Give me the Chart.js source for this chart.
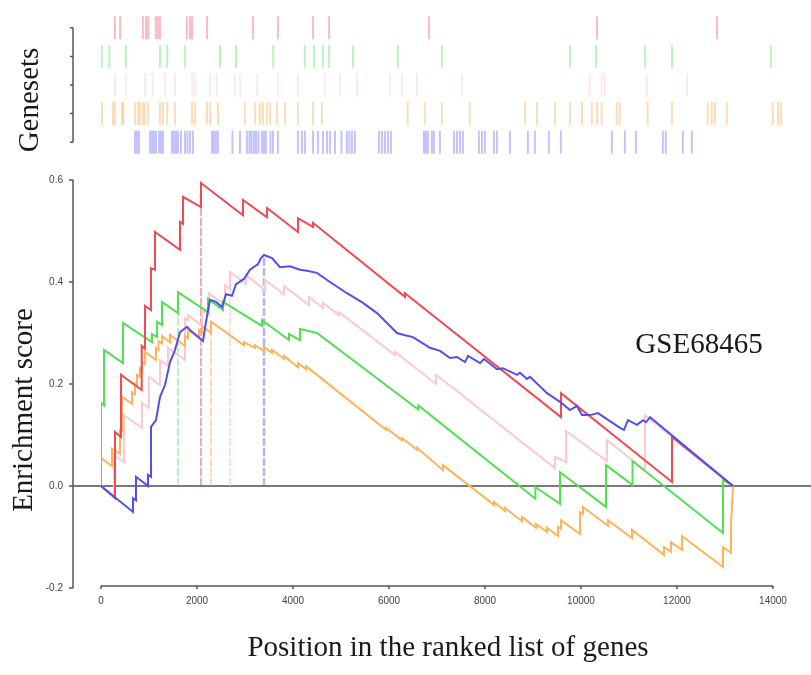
<!DOCTYPE html>
<html>
<head>
<meta charset="utf-8">
<script src="https://cdn.jsdelivr.net/npm/chart.js@4.4.0/dist/chart.umd.min.js"></script>
<style>
  html, body { margin: 0; padding: 0; background: #fff; }
  #wrap { position: relative; width: 811px; height: 675px; }
  #wrap canvas { position: absolute; left: 0; top: 0; }
</style>
</head>
<body>
<div id="wrap">
  <canvas id="esChart" width="811" height="675"></canvas>
  <canvas id="hitChart" width="811" height="170"></canvas>
</div>
<script>
// Ranked list length and axis ticks
const geneCount = 13167;
const xTicks = [0, 2000, 4000, 6000, 8000, 10000, 12000, 14000];
const yTicks = [-0.2, 0, 0.2, 0.4, 0.6];

// Running enrichment score, [rank, score] pairs
const esRed = [[0,0],[292,-0.024],[292,0.106],[417,0.096],[417,0.218],[848,0.188],[848,0.275],[917,0.269],[917,0.353],
  [1042,0.345],[1042,0.427],[1125,0.424],[1125,0.498],[1646,0.463],[1646,0.518],[1708,0.514],[1708,0.567],[2083,0.547],
  [2083,0.594],[2958,0.531],[2958,0.561],[3458,0.527],[3458,0.545],[4104,0.498],[4104,0.525],[4417,0.508],[4417,0.516],
  [6333,0.371],[6333,0.378],[9583,0.135],[9583,0.182],[11896,0.008],[11896,0.096],[13167,0]];

const esGreen = [[0,0],[0,0.163],[63,0.158],[63,0.267],[458,0.241],[458,0.320],[1063,0.282],[1063,0.298],[1167,0.292],
  [1167,0.322],[1271,0.316],[1271,0.361],[1604,0.339],[1604,0.380],[2229,0.341],[2229,0.367],[2542,0.345],[2542,0.361],
  [3354,0.314],[3354,0.325],[3917,0.286],[3917,0.298],[4146,0.286],[4146,0.308],[4500,0.300],[6610,0.150],[6610,0.158],
  [9050,-0.025],[9050,-0.002],[9563,-0.035],[9563,0.027],[10521,-0.041],[10521,0.041],[11073,0.002],[11073,0.049],
  [12958,-0.092],[12958,0.012],[13167,0]];

const esPink = [[0,0],[271,-0.020],[271,0.061],[479,0.047],[479,0.139],[854,0.114],[854,0.163],[1000,0.153],[1000,0.214],
  [1229,0.198],[1229,0.247],[1396,0.235],[1396,0.271],[1750,0.247],[1750,0.329],[1813,0.325],[1813,0.335],[2104,0.314],
  [2104,0.345],[2250,0.335],[2250,0.378],[2583,0.355],[2583,0.394],[2688,0.386],[2688,0.420],[3021,0.396],[3021,0.414],
  [3417,0.384],[3417,0.404],[3813,0.376],[3813,0.392],[4333,0.355],[4333,0.371],[4625,0.349],[4625,0.359],[4958,0.335],
  [4958,0.341],[6125,0.257],[6125,0.263],[6979,0.200],[6979,0.218],[9458,0.035],[9458,0.057],[9688,0.047],[9688,0.108],
  [10542,0.049],[10542,0.090],[11333,0.031],[11333,0.139],[13167,0]];

const esOrange = [[0,0],[0,0.055],[229,0.039],[229,0.073],[396,0.063],[396,0.110],[438,0.108],[438,0.175],[646,0.161],
  [646,0.184],[708,0.180],[708,0.200],[750,0.196],[750,0.218],[813,0.214],[813,0.231],[854,0.227],[854,0.243],[917,0.239],
  [917,0.263],[1146,0.247],[1146,0.271],[1198,0.267],[1198,0.284],[1271,0.280],[1271,0.294],[1438,0.282],[1438,0.296],
  [1750,0.275],[1750,0.294],[1813,0.290],[1813,0.306],[2042,0.290],[2042,0.306],[2104,0.302],[2104,0.314],[2292,0.300],
  [2292,0.322],[2979,0.276],[2979,0.282],[3208,0.271],[3208,0.276],[3396,0.265],[3396,0.273],[3563,0.261],[3563,0.267],
  [3813,0.249],[3813,0.255],[4104,0.233],[4104,0.241],[4271,0.229],[4271,0.235],[5938,0.110],[5938,0.114],[6271,0.090],
  [6271,0.094],[6583,0.071],[6583,0.075],[7125,0.031],[7125,0.041],[8188,-0.037],[8188,-0.031],[8417,-0.049],[8417,-0.043],
  [8771,-0.069],[8771,-0.061],[9063,-0.082],[9063,-0.075],[9292,-0.090],[9292,-0.082],[9521,-0.098],[9521,-0.080],
  [9583,-0.084],[9583,-0.067],[9979,-0.094],[9979,-0.051],[10042,-0.055],[10042,-0.041],[10563,-0.078],[10563,-0.067],
  [11063,-0.102],[11063,-0.086],[11729,-0.135],[11729,-0.120],[11875,-0.129],[11875,-0.110],[12104,-0.125],[12104,-0.098],
  [12958,-0.159],[12958,-0.120],[13125,-0.131],[13125,-0.076],[13167,0]];

const esBlue = [[0,0],[667,-0.051],[667,-0.024],[729,-0.028],[729,0.018],[979,0.000],[979,0.022],[1042,0.018],[1042,0.116],
  [1146,0.129],[1229,0.175],[1333,0.198],[1438,0.243],[1542,0.267],[1646,0.302],[1792,0.312],[1854,0.306],[1979,0.296],
  [2125,0.284],[2188,0.322],[2271,0.365],[2396,0.361],[2521,0.351],[2604,0.376],[2729,0.373],[2813,0.396],[2979,0.406],
  [3104,0.424],[3271,0.435],[3333,0.447],[3396,0.453],[3563,0.447],[3729,0.429],[3938,0.431],[4146,0.424],[4292,0.422],
  [4500,0.418],[4771,0.400],[5125,0.378],[5458,0.359],[5750,0.339],[6167,0.300],[6313,0.296],[6500,0.292],[6854,0.271],
  [7063,0.265],[7271,0.251],[7417,0.253],[7583,0.243],[7646,0.255],[7896,0.241],[7979,0.249],[8250,0.229],[8375,0.231],
  [8667,0.218],[8729,0.222],[8875,0.210],[8938,0.214],[9292,0.182],[9563,0.165],[9771,0.149],[9917,0.157],[10021,0.139],
  [10188,0.139],[10354,0.143],[10813,0.114],[10896,0.110],[10979,0.129],[11167,0.120],[11292,0.129],[11354,0.125],
  [11438,0.135],[13167,0]];

// Peak positions (dotted drop lines)
const peakRanks = [2083, 1604, 2688, 2292, 3396];
const peakScores = [0.594, 0.380, 0.420, 0.322, 0.453];

// Hit positions of each gene set in the ranked list (top panel)
const hitsRed = [270, 370, 810, 870, 910, 1060, 1100, 1140, 1660, 1720, 1760, 2050, 2940, 3420, 4100, 4410, 6340, 9590, 11910];
const hitsGreen = [15, 160, 480, 1140, 1280, 1620, 2300, 2610, 3330, 3940, 4120, 4290, 4410, 4870, 5740, 6590, 9070, 9570,
  10520, 11040, 12950];
const hitsPink = [270, 480, 850, 1000, 1240, 1430, 1760, 1820, 2110, 2240, 2590, 2690, 3020, 3420, 3810, 4330, 4620, 4950,
  5590, 5820, 6110, 6980, 9450, 9680, 9740, 10550, 11330];
const hitsOrange = [20, 230, 270, 410, 430, 660, 720, 750, 810, 850, 910, 1140, 1200, 1280, 1430, 1760, 1820, 2050, 2110,
  2260, 2780, 2980, 3070, 3130, 3210, 3270, 3400, 3560, 3810, 4100, 4270, 5930, 6260, 6590, 7130, 8200, 8430, 8780, 9070,
  9300, 9490, 9590, 9680, 9970, 10030, 10570, 11040, 11730, 11810, 11870, 12100, 12990, 13090, 13150];
const hitsBlue = [657, 696, 735, 947, 986, 1024, 1063, 1121, 1160, 1198, 1372, 1411, 1450, 1488, 1546, 1624, 1672, 1720,
  1778, 2146, 2184, 2223, 2262, 2542, 2687, 2822, 2870, 2909, 2957, 2996, 3044, 3112, 3151, 3189, 3276, 3325, 3421, 3808,
  3885, 3943, 4098, 4195, 4292, 4369, 4427, 4524, 4649, 4755, 4803, 4852, 4910, 5374, 5432, 5490, 5548, 5606, 6244, 6282,
  6321, 6398, 6437, 6553, 6824, 6882, 6940, 6998, 7307, 7365, 7423, 7597, 7655, 7906, 8254, 8389, 8660, 8892, 9878, 10129,
  10342, 10863, 10921, 11250, 11424];

// Series order: red, green, pink, orange, blue
const seriesNames = ['Geneset 1', 'Geneset 2', 'Geneset 3', 'Geneset 4', 'Geneset 5'];
const curves = [esRed, esGreen, esPink, esOrange, esBlue];
const hitSets = [hitsRed, hitsGreen, hitsPink, hitsOrange, hitsBlue];
const hitRows = [5, 4, 3, 2, 1];

const lineColors = ['#f04a55', '#52e052', '#ffc8d0', '#ffb45a', '#5050f0'];
const peakColors = ['rgba(240,70,80,0.7)', 'rgba(80,220,80,0.6)', 'rgba(255,190,200,0.8)', 'rgba(255,170,80,0.7)', 'rgba(90,90,240,0.45)'];
const hitColors = ['rgba(245,60,80,0.35)', 'rgba(40,220,40,0.32)', 'rgba(230,160,175,0.22)', 'rgba(245,150,40,0.32)', 'rgba(60,60,245,0.3)'];
const drawOrder = [1, 2, 4, 3, 0]; // blue on top

const serifFont = '29px "Liberation Serif", "Times New Roman", serif';

Chart.defaults.font.family = '"Liberation Sans", Arial, sans-serif';

// Axis lines, zero line and titles for the enrichment plot
const esDecor = {
    id: 'esDecor',
    beforeDatasetsDraw(chart) {
        const { ctx, scales: { x, y } } = chart;
        ctx.save();
        // zero line
        const zy = y.getPixelForValue(0);
        ctx.strokeStyle = '#7a7a7a';
        ctx.lineWidth = 2;
        ctx.beginPath();
        ctx.moveTo(73, zy);
        ctx.lineTo(chart.width, zy);
        ctx.stroke();

        // detached y axis with ticks
        ctx.strokeStyle = '#555';
        ctx.lineWidth = 1.5;
        ctx.beginPath();
        ctx.moveTo(73, y.getPixelForValue(yTicks[yTicks.length - 1]));
        ctx.lineTo(73, y.getPixelForValue(yTicks[0]));
        yTicks.forEach(v => {
            const py = y.getPixelForValue(v);
            ctx.moveTo(69, py);
            ctx.lineTo(73, py);
        });
        // detached x axis with ticks
        const ay = y.getPixelForValue(yTicks[0]) - 2;
        ctx.moveTo(x.getPixelForValue(xTicks[0]), ay);
        ctx.lineTo(x.getPixelForValue(xTicks[xTicks.length - 1]), ay);
        xTicks.forEach(v => {
            const px = x.getPixelForValue(v);
            ctx.moveTo(px, ay);
            ctx.lineTo(px, ay + 3);
        });
        ctx.stroke();
        ctx.restore();
    },
    afterDraw(chart) {
        const ctx = chart.ctx;
        ctx.save();
        ctx.fillStyle = '#1a1a1a';
        ctx.font = serifFont;
        ctx.textAlign = 'center';
        ctx.textBaseline = 'middle';
        ctx.fillText('Position in the ranked list of genes', 448, 648);
        ctx.fillText('GSE68465', 699, 345);
        ctx.translate(24, 410);
        ctx.rotate(-Math.PI / 2);
        ctx.fillText('Enrichment score', 0, 0);
        ctx.restore();
    }
};

// Axis line and label for the hit panel
const genesetAxis = {
    id: 'genesetAxis',
    afterDraw(chart) {
        const ctx = chart.ctx;
        const y = chart.scales.y;
        ctx.save();
        ctx.strokeStyle = '#555';
        ctx.lineWidth = 1.5;
        ctx.beginPath();
        ctx.moveTo(73, y.getPixelForValue(hitRows[0]));
        ctx.lineTo(73, y.getPixelForValue(hitRows[hitRows.length - 1]));
        hitRows.forEach(r => {
            const py = y.getPixelForValue(r);
            ctx.moveTo(70, py);
            ctx.lineTo(73, py);
        });
        ctx.stroke();

        ctx.fillStyle = '#1a1a1a';
        ctx.font = serifFont;
        ctx.textAlign = 'center';
        ctx.textBaseline = 'middle';
        ctx.translate(30, 100);
        ctx.rotate(-Math.PI / 2);
        ctx.fillText('Genesets', 0, 0);
        ctx.restore();
    }
};

// Build datasets for the running score curves and the peak drop lines
const curveDatasets = curves.map((pts, i) => ({
    label: seriesNames[i],
    data: pts.map(p => ({ x: p[0], y: p[1] })),
    borderColor: lineColors[i],
    borderWidth: 2,
    pointRadius: 0,
    tension: 0,
    fill: false,
    order: drawOrder[i]
}));

const peakDatasets = peakRanks.map((r, i) => ({
    label: seriesNames[i] + ' peak',
    data: [{ x: r, y: 0 }, { x: r, y: peakScores[i] }],
    borderColor: peakColors[i],
    borderWidth: i === 4 ? 2.5 : 1.3,
    borderDash: [8, 2],
    pointRadius: 0,
    fill: false,
    order: 10 + i
}));

new Chart(document.getElementById('esChart'), {
    type: 'line',
    data: { datasets: curveDatasets.concat(peakDatasets) },
    options: {
        responsive: false,
        animation: false,
        events: [],
        layout: { padding: { left: 21, right: 38, top: 180, bottom: 57 } },
        plugins: { legend: { display: false }, tooltip: { enabled: false } },
        scales: {
            x: {
                type: 'linear',
                min: xTicks[0],
                max: xTicks[xTicks.length - 1],
                afterBuildTicks: s => { s.ticks = xTicks.map(v => ({ value: v })); },
                afterFit: s => { s.height = 30; },
                grid: { display: false, drawTicks: false },
                border: { display: false },
                ticks: { padding: 7, color: '#444', font: { size: 10 }, maxRotation: 0, autoSkip: false, callback: v => String(v) }
            },
            y: {
                min: yTicks[0],
                max: yTicks[yTicks.length - 1],
                afterBuildTicks: s => { s.ticks = yTicks.map(v => ({ value: v })); },
                afterFit: s => { s.width = 80; },
                grid: { display: false, drawTicks: false },
                border: { display: false },
                ticks: { padding: 38, color: '#444', font: { size: 10 }, callback: v => Number(v).toFixed(1) }
            }
        }
    },
    plugins: [esDecor]
});

// Top panel: one row of vertical ticks per gene set
new Chart(document.getElementById('hitChart'), {
    type: 'scatter',
    data: {
        datasets: hitSets.map((hits, i) => ({
            label: seriesNames[i],
            data: hits.map(r => ({ x: r, y: hitRows[i] })),
            pointStyle: 'line',
            pointRotation: 90,
            pointRadius: 11.5,
            pointBorderWidth: 2,
            pointBorderColor: hitColors[i],
            pointBackgroundColor: hitColors[i]
        }))
    },
    options: {
        responsive: false,
        animation: false,
        events: [],
        layout: { padding: { left: 101, right: 29, top: 8, bottom: 12 } },
        plugins: { legend: { display: false }, tooltip: { enabled: false } },
        scales: {
            x: { type: 'linear', display: false, min: 0, max: geneCount },
            y: { type: 'linear', display: false, min: 0.5, max: 5.5 }
        }
    },
    plugins: [genesetAxis]
});
</script>
</body>
</html>
